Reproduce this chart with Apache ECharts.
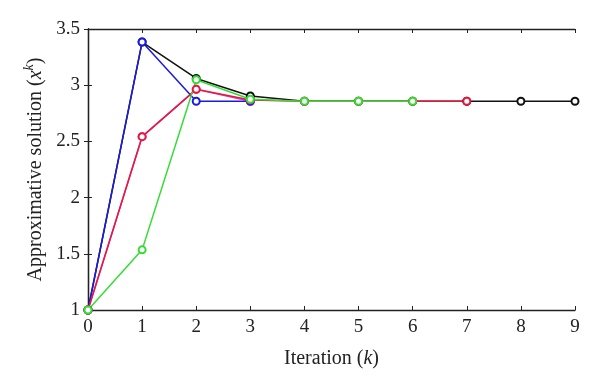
<!DOCTYPE html>
<html>
<head>
<meta charset="utf-8">
<script src="https://cdn.jsdelivr.net/npm/echarts@6/dist/echarts.min.js"></script>
<style>html,body{margin:0;padding:0;background:#fff}#c{width:600px;height:386px}</style>
</head>
<body>
<div id="c"></div>
<script>
var iterations = [0,1,2,3,4,5,6,7,8,9];
var blackSeries = [1, 3.384, 3.06, 2.904, 2.857, 2.857, 2.857, 2.857, 2.857, 2.857];
var magentaSeries = [1, 2.542, 2.963, 2.857];
var blueSeries = [1, 3.384, 2.857, 2.857];
var redSeries = [1, 2.542, 2.963, 2.868, 2.857, 2.857, 2.857, 2.857];
var greenSeries = [1, 1.535, 3.048, 2.875, 2.857, 2.857, 2.857];
var yTicks = [1, 1.5, 2, 2.5, 3, 3.5];

function pairs(arr){ return arr.map(function(v,i){ return [iterations[i], v]; }); }
var font = '"Liberation Serif", "Times New Roman", serif';
function mk(name, data, color){
  return {name:name, type:'line', data:pairs(data), symbol:'emptyCircle', symbolSize:7,
    lineStyle:{color:color, width:1.5}, itemStyle:{color:color, borderWidth:1.5},
    animation:false, z:2};
}
var axisLine = {show:true, lineStyle:{color:'#222', width:1.3}};
var tick = {show:true, inside:true, length:4, lineStyle:{color:'#222'}};
var chart = echarts.init(document.getElementById('c'));
chart.setOption({
  backgroundColor:'#fff',
  animation:false,
  grid:{left:88, right:25, top:29, bottom:76},
  xAxis:[{
    type:'value', min:0, max:9, interval:1, position:'bottom',
    axisLine:axisLine, axisTick:tick, splitLine:{show:false},
    axisLabel:{color:'#222', fontFamily:font, fontSize:19, margin:8},
    name:'{a|Iteration (}{i|k}{a|)}', nameLocation:'middle', nameGap:39,
    nameTextStyle:{rich:{a:{fontFamily:font, fontSize:20, color:'#222'}, i:{fontFamily:font, fontSize:20, fontStyle:'italic', color:'#222'}}}
  },{
    type:'value', min:0, max:9, interval:1, position:'top',
    axisLine:axisLine, axisTick:tick, splitLine:{show:false}, axisLabel:{show:false}
  }],
  yAxis:[{
    type:'value', min:yTicks[0], max:yTicks[yTicks.length-1], interval:0.5, position:'left',
    axisLine:axisLine, axisTick:tick, splitLine:{show:false},
    axisLabel:{color:'#222', fontFamily:font, fontSize:19, margin:8},
    name:'{a|Approximative solution (}{i|x}{s|k}{a|)}', nameLocation:'middle', nameGap:36, nameRotate:90,
    nameTextStyle:{rich:{
      a:{fontFamily:font, fontSize:20, color:'#222'},
      i:{fontFamily:font, fontSize:20, fontStyle:'italic', color:'#222'},
      s:{fontFamily:font, fontSize:14, fontStyle:'italic', color:'#222', verticalAlign:'top', padding:[0,0,12,0]}
    }}
  },{
    type:'value', min:yTicks[0], max:yTicks[yTicks.length-1], interval:0.5, position:'right',
    axisLine:axisLine, axisTick:tick, splitLine:{show:false}, axisLabel:{show:false}
  }],
  series:[
    mk('black', blackSeries, '#111111'),
    mk('magenta', magentaSeries, '#d63cd6'),
    mk('blue', blueSeries, '#1a1ae0'),
    mk('red', redSeries, '#e6193c'),
    mk('green', greenSeries, '#33dd33')
  ]
});
</script>
</body>
</html>
